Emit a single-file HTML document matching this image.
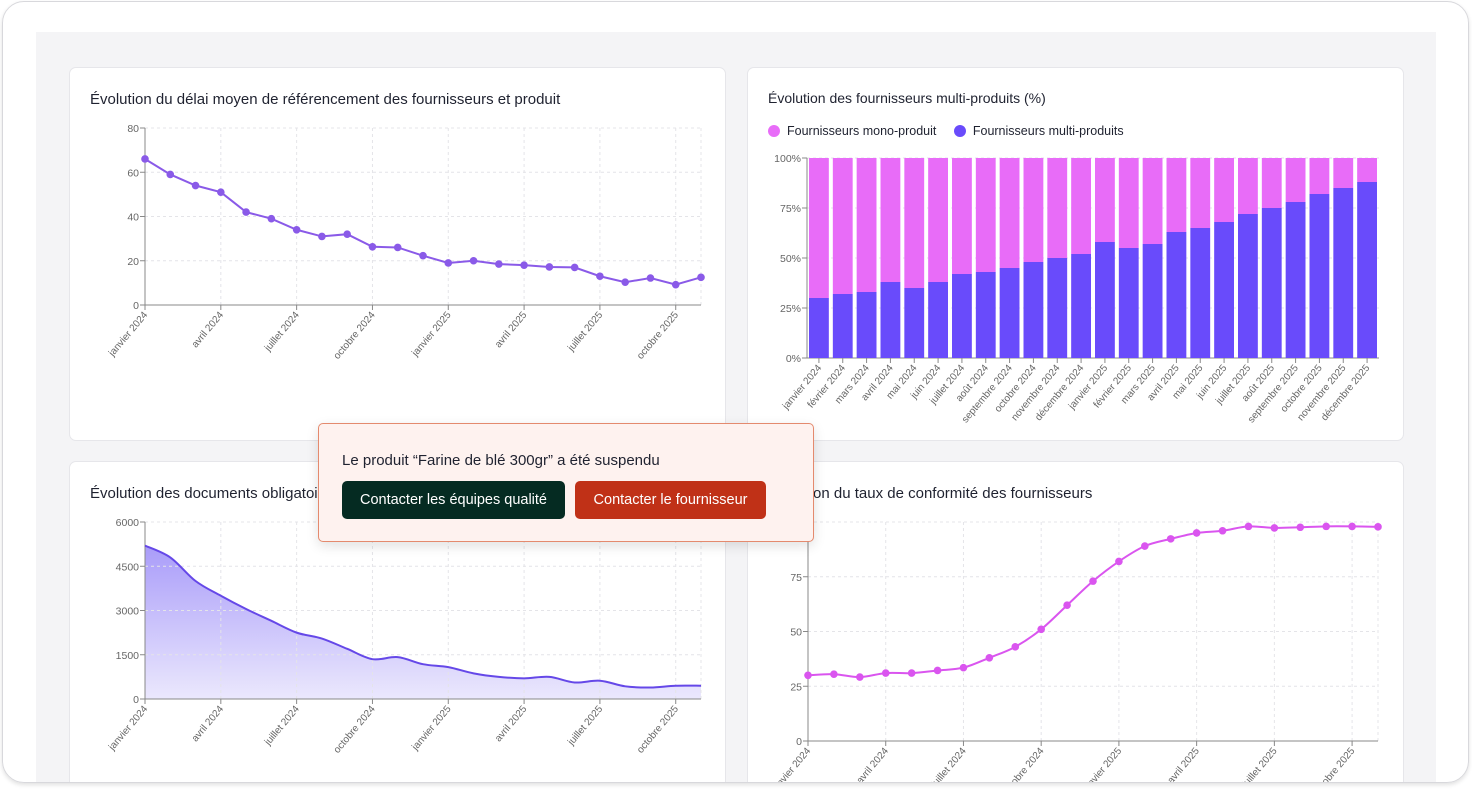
<!DOCTYPE html>
<html><head><meta charset="utf-8">
<style>
*{box-sizing:border-box;margin:0;padding:0}
body{width:1472px;height:791px;background:#fff;font-family:"Liberation Sans",sans-serif;overflow:hidden;position:relative}
#clip{position:absolute;left:3px;top:1px;width:1466px;height:782px;border-radius:22px;overflow:hidden;background:#fff}
#inner{position:absolute;left:-3px;top:-1px;width:1472px;height:791px}
#frame{position:absolute;left:2px;top:1px;width:1467px;height:782px;border:1px solid #d8d8dc;border-radius:22px;box-shadow:0 2px 4px rgba(0,0,0,.12);pointer-events:none}
#bg{position:absolute;left:36px;top:32px;width:1400px;height:760px;background:#f4f4f6}
.card{position:absolute;background:#fff;border:1px solid #e6e6ea;border-radius:7px}
.title{position:absolute;font-size:15px;color:#1f2230}
svg{position:absolute;left:0;top:0}
#toast{position:absolute;left:318px;top:423px;width:496px;height:119px;background:#fef2ef;border:1px solid #e48a6e;border-radius:5px;box-shadow:0 4px 12px rgba(0,0,0,.12)}
#toast p{position:absolute;left:23px;top:28px;font-size:15px;color:#1f2230}
.btn{position:absolute;top:57px;height:38px;border-radius:5px;color:#fff;font-size:14.5px;line-height:38px;text-align:center}
</style></head><body>
<div id="clip"><div id="inner">
<div id="bg"></div>
<div class="card" style="left:69px;top:67px;width:657px;height:374px"></div>
<div class="card" style="left:747px;top:67px;width:657px;height:374px"></div>
<div class="card" style="left:69px;top:461px;width:657px;height:340px"></div>
<div class="card" style="left:747px;top:461px;width:657px;height:340px"></div>
<div class="title" style="left:90px;top:91px">Évolution du délai moyen de référencement des fournisseurs et produit</div>
<div class="title" style="left:768px;top:90px;font-size:14px">Évolution des fournisseurs multi-produits (%)</div>
<div class="title" style="left:90px;top:485px">Évolution des documents obligatoires</div>
<div class="title" style="left:768px;top:485px">Évolution du taux de conformité des fournisseurs</div>
<div style="position:absolute;left:768px;top:124px;font-size:12.5px;color:#1f2230">
<span><span style="display:inline-block;width:12px;height:12px;border-radius:6px;background:#e86cf8;vertical-align:-2px;margin-right:7px"></span>Fournisseurs mono-produit</span>
<span style="margin-left:14px"><span style="display:inline-block;width:12px;height:12px;border-radius:6px;background:#694bfb;vertical-align:-2px;margin-right:7px"></span>Fournisseurs multi-produits</span>
</div>
<svg id="chart" width="1472" height="791">
<defs><linearGradient id="ag" x1="0" y1="0" x2="0" y2="1"><stop offset="0" stop-color="#a99cf9"/><stop offset="1" stop-color="#ebe8fd"/></linearGradient></defs>
</svg>
<div id="toast">
<p>Le produit “Farine de blé 300gr” a été suspendu</p>
<div class="btn" style="left:23px;width:223px;background:#052b22">Contacter les équipes qualité</div>
<div class="btn" style="left:256px;width:191px;background:#c03117">Contacter le fournisseur</div>
</div>
</div></div>
<div id="frame"></div>
<script>
const lineMonths=["janvier 2024","","","avril 2024","","","juillet 2024","","","octobre 2024","","","janvier 2025","","","avril 2025","","","juillet 2025","","","octobre 2025",""];
const delayValues=[66,59,54,51,42,39,34,31,32,26.3,26,22.3,19,20,18.5,18,17.2,17,13,10.3,12.2,9.2,12.5];
const delayTicks=[0,20,40,60,80];
const docValues=[5200,4800,4000,3500,3050,2650,2250,2050,1700,1350,1420,1180,1080,870,750,700,750,560,620,430,390,450,450];
const docTicks=[0,1500,3000,4500,6000];
const complianceValues=[30,30.5,29.2,31,31,32.2,33.5,38,43,51,62,73,82,89,92.3,95,96,98,97.3,97.6,98,98,97.8];
const complianceTicks=[0,25,50,75,100];
const barMonths=["janvier 2024","février 2024","mars 2024","avril 2024","mai 2024","juin 2024","juillet 2024","août 2024","septembre 2024","octobre 2024","novembre 2024","décembre 2024","janvier 2025","février 2025","mars 2025","avril 2025","mai 2025","juin 2025","juillet 2025","août 2025","septembre 2025","octobre 2025","novembre 2025","décembre 2025"];
const multiValues=[30,32,33,38,35,38,42,43,45,48,50,52,58,55,57,63,65,68,72,75,78,82,85,88];
const pctTicks=[0,25,50,75,100];

const svg=document.getElementById('chart');
const NS='http://www.w3.org/2000/svg';
function mk(tag,attrs,parent){const e=document.createElementNS(NS,tag);for(const k in attrs)e.setAttribute(k,attrs[k]);(parent||svg).appendChild(e);return e;}

function axes(g,x0,x1,y0,y1,ticks,max,xs,labels,fmt){
  const ys=v=>y0-(v/max)*(y0-y1);
  ticks.forEach(t=>{
    const y=ys(t);
    const gl=mk('line',{x1:x0,x2:x1,y1:y,y2:y,stroke:'#e4e4e8','stroke-dasharray':'3 3'},g);
    
    mk('line',{x1:x0-5,x2:x0,y1:y,y2:y,stroke:'#888'},g);
    const tx=mk('text',{x:x0-6,y:y+4,'text-anchor':'end','font-size':'10.5',fill:'#666'},g);
    tx.textContent=fmt?fmt(t):t;
    
  });
  labels.forEach((l,i)=>{
    if(!l)return;const x=xs(i);
    if(!fmt){mk('line',{x1:x,x2:x,y1:y1,y2:y0,stroke:'#e4e4e8','stroke-dasharray':'3 3'},g);}
    mk('line',{x1:x,x2:x,y1:y0,y2:y0+5,stroke:'#888'},g);
    const tx=mk('text',{transform:`translate(${x+3},${y0+10}) rotate(-50)`,'text-anchor':'end','font-size':'10',fill:'#666'},g);
    tx.textContent=l;
    
  });
  if(!fmt)mk('line',{x1:x1,x2:x1,y1:y1,y2:y0,stroke:'#e4e4e8','stroke-dasharray':'3 3'},g);
  mk('line',{x1:x0,x2:x0,y1:y1,y2:y0,stroke:'#888'},g);
  mk('line',{x1:x0,x2:x1,y1:y0,y2:y0,stroke:'#888'},g);
  return ys;
}
function smooth(pts){let d=`M${pts[0][0]},${pts[0][1]}`;for(let i=0;i<pts.length-1;i++){const p0=pts[i-1]||pts[i],p1=pts[i],p2=pts[i+1],p3=pts[i+2]||p2;d+=` C${p1[0]+(p2[0]-p0[0])/6},${p1[1]+(p2[1]-p0[1])/6} ${p2[0]-(p3[0]-p1[0])/6},${p2[1]-(p3[1]-p1[1])/6} ${p2[0]},${p2[1]}`;}return d;}

function lineChart(name,x0,x1,y0,y1,vals,ticks,color,isSmooth,dots){
  const g=mk('g',{});
  
  
  const n=vals.length;const xs=i=>x0+i*(x1-x0)/(n-1);
  const ys=axes(g,x0,x1,y0,y1,ticks,ticks[ticks.length-1],xs,lineMonths);
  const pts=vals.map((v,i)=>[xs(i),ys(v)]);
  const d=isSmooth?smooth(pts):'M'+pts.map(p=>p.join(',')).join(' L');
  const ln=mk('path',{d:d,fill:'none',stroke:color,'stroke-width':2},g);
  
  
  if(dots)pts.forEach(p=>{const c=mk('circle',{cx:p[0],cy:p[1],r:3.8,fill:color},g);
    
    });
}
lineChart('delay-line-chart',145,701,305,128,delayValues,delayTicks,'#8a5ae8',false,true);
(function(){
  const g=mk('g',{});
  
  
  const x0=145,x1=701,y0=699,y1=522,n=docValues.length;
  const xs=i=>x0+i*(x1-x0)/(n-1);
  const ys=axes(g,x0,x1,y0,y1,docTicks,6000,xs,lineMonths);
  const pts=docValues.map((v,i)=>[xs(i),ys(v)]);
  const d=smooth(pts);
  const a=mk('path',{d:d+` L${x1},${y0} L${x0},${y0} Z`,fill:'url(#ag)'},g);
  
  
  g.insertBefore(a,g.firstChild.nextSibling);
  const l=mk('path',{d:d,fill:'none',stroke:'#6548e8','stroke-width':2},g);
  
  
})();
lineChart('compliance-line-chart',808,1378,741,522,complianceValues,complianceTicks,'#da55ef',true,true);
(function(){
  const g=mk('g',{});
  
  
  const x0=807,x1=1379,y0=358,y1=158,n=barMonths.length,bw=(x1-x0)/n;
  const xs=i=>x0+bw*(i+0.5);
  const ys=axes(g,x0,x1,y0,y1,pctTicks,100,xs,barMonths,t=>t+'%');
  multiValues.forEach((v,i)=>{
    const x=x0+bw*i+2,w=bw-4;
    const r1=mk('rect',{x:x,y:y1,width:w,height:ys(v)-y1,fill:'#e86cf8'},g);
    
    
    const r2=mk('rect',{x:x,y:ys(v),width:w,height:y0-ys(v),fill:'#694bfb'},g);
    
    
  });
})();
</script>
</body></html>
